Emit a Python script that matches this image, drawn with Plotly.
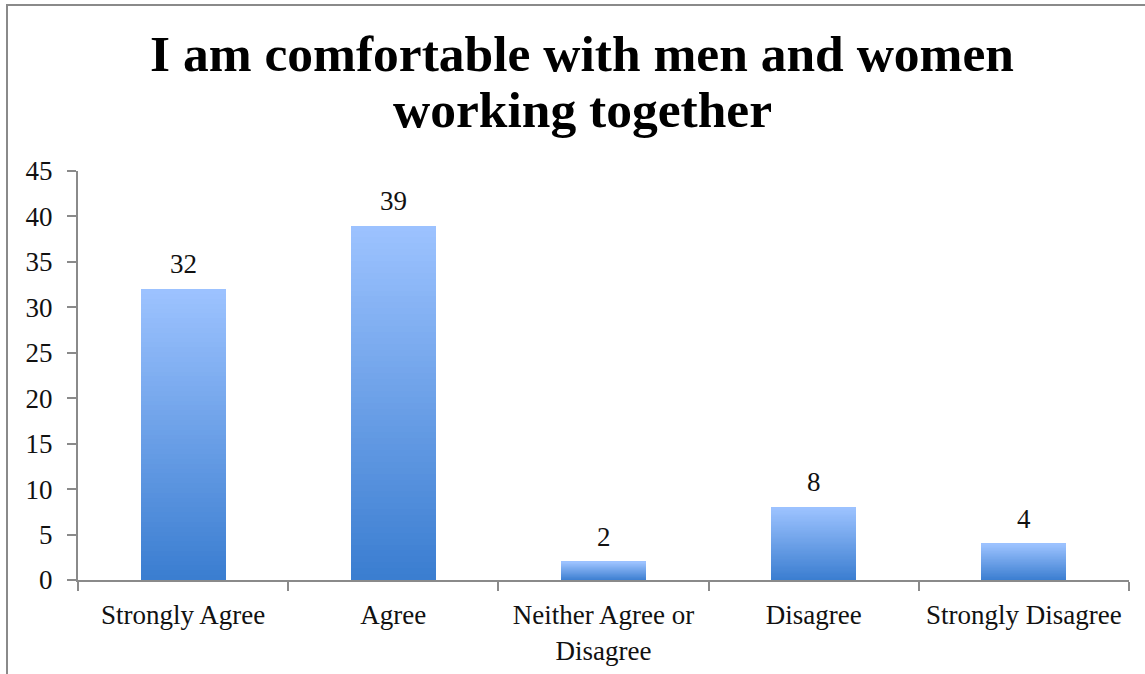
import plotly.graph_objects as go

# Survey responses
categories = ["Strongly Agree", "Agree", "Neither Agree or<br>Disagree", "Disagree", "Strongly Disagree"]
counts = [32, 39, 2, 8, 4]
y_ticks = [0, 5, 10, 15, 20, 25, 30, 35, 40, 45]
title_lines = ["I am comfortable with men and women", "working together"]

# Vertical gradient: dark blue at the base, light blue at the top
BOTTOM = (58, 125, 208)
TOP = (157, 195, 255)
N_STEPS = 60

# Plot-area geometry in pixels (used to place the title and frame in paper units)
W, H = 1145, 674
M_L, M_R, M_T, M_B = 78, 16, 171, 94
PW, PH = W - M_L - M_R, H - M_T - M_B


def blend(t):
    r, g, b = (round(BOTTOM[i] + (TOP[i] - BOTTOM[i]) * t) for i in range(3))
    return f"rgb({r},{g},{b})"


def px_x(x):
    return (x - M_L) / PW


def px_y(y):
    return (H - M_B - y) / PH


fig = go.Figure()
for k in range(N_STEPS):
    fig.add_trace(go.Bar(
        x=categories,
        y=[c / N_STEPS for c in counts],
        marker=dict(color=blend((k + 0.5) / N_STEPS), line=dict(width=0)),
        hoverinfo="skip",
        showlegend=False,
    ))

# Value labels above each bar
for cat, c in zip(categories, counts):
    fig.add_annotation(x=cat, y=c, text=str(c), showarrow=False,
                       yanchor="bottom", yshift=8,
                       font=dict(family="Liberation Serif", size=27, color="#111"))

# Chart title, two bold lines
for line, y_px in zip(title_lines, [54, 109]):
    fig.add_annotation(
        text=line, showarrow=False,
        xref="paper", yref="paper", x=px_x(582), y=px_y(y_px),
        xanchor="center", yanchor="middle",
        font=dict(family="Liberation Serif", size=51.5, color="#000", weight="bold"),
    )

axis_grey = "#8a8a8a"
fig.update_layout(
    width=W, height=H,
    barmode="stack", bargap=0.595,
    paper_bgcolor="white", plot_bgcolor="white",
    margin=dict(l=M_L, r=M_R, t=M_T, b=M_B),
    font=dict(family="Liberation Serif", size=27, color="#111"),
    xaxis=dict(
        type="category", showgrid=False, showline=True, linecolor=axis_grey, linewidth=2,
        ticks="outside", tickson="boundaries", ticklen=9, tickcolor=axis_grey, tickwidth=2,
        tickfont=dict(size=27), ticklabelstandoff=10, automargin=False,
    ),
    yaxis=dict(
        range=[0, 45], tickvals=y_ticks, showgrid=False, zeroline=False,
        showline=True, linecolor=axis_grey, linewidth=2,
        ticks="outside", ticklen=9, tickcolor=axis_grey, tickwidth=2,
        tickfont=dict(size=27), ticklabelstandoff=9, automargin=False,
    ),
    shapes=[dict(
        type="rect", xref="paper", yref="paper",
        x0=px_x(7), x1=px_x(W + 60), y0=px_y(H + 60), y1=px_y(5),
        line=dict(color=axis_grey, width=2), fillcolor="rgba(0,0,0,0)", layer="below",
    )],
)

fig.write_html("out.html")
